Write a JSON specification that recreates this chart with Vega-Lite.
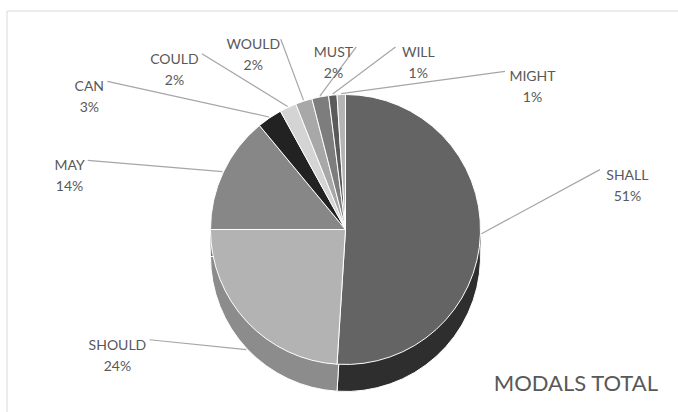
{
  "$schema": "https://vega.github.io/schema/vega-lite/v6.json",
  "width": 671,
  "height": 401,
  "autosize": "none",
  "padding": {"left": 7, "top": 11, "right": 0, "bottom": 0},
  "background": "white",
  "config": {"view": {"stroke": null}, "font": "Lato"},
  "title": {"text": "MODALS TOTAL", "orient": "bottom", "anchor": "end", "frame": "group", "offset": -39, "dx": -20, "fontSize": 22, "font": "Lato", "fontWeight": "normal", "color": "#595959"},
  "data": {"values": [
    {"modal": "SHALL", "pct": 51},
    {"modal": "SHOULD", "pct": 24},
    {"modal": "MAY", "pct": 14},
    {"modal": "CAN", "pct": 3},
    {"modal": "COULD", "pct": 2},
    {"modal": "WOULD", "pct": 2},
    {"modal": "MUST", "pct": 2},
    {"modal": "WILL", "pct": 1},
    {"modal": "MIGHT", "pct": 1}
  ]},
  "transform": [
    {"calculate": "indexof(['SHALL','SHOULD','MAY','CAN','COULD','WOULD','MUST','WILL','MIGHT'], datum.modal)", "as": "idx"},
    {"calculate": "[1.382, 4.241, 4.937, 5.219, 5.494, 5.819, 6.215, 0.391, 0.888][datum.idx]", "as": "la"},
    {"calculate": "[287, 256, 283, 293, 241, 206, 177, 191, 241][datum.idx]", "as": "lr"}
  ],
  "layer": [
    {
      "data": {"values": [{}]},
      "mark": {"type": "rule", "color": "#d9d9d9", "strokeWidth": 1},
      "encoding": {"y": {"value": 0}}
    },
    {
      "data": {"values": [{}]},
      "mark": {"type": "rule", "color": "#d9d9d9", "strokeWidth": 1},
      "encoding": {"x": {"value": 0}}
    },
    {
      "mark": {"type": "arc", "outerRadius": 135, "xOffset": 3, "yOffset": 27, "strokeWidth": 0},
      "encoding": {
        "theta": {"field": "pct", "type": "quantitative", "stack": true},
        "order": {"field": "idx", "type": "quantitative"},
        "color": {"field": "modal", "type": "nominal", "legend": null,
          "scale": {"domain": ["SHALL","SHOULD","MAY","CAN","COULD","WOULD","MUST","WILL","MIGHT"], "range": ["#2e2e2e","#8c8c8c","#666666","#1a1a1a","#a8a8a8","#888888","#5e5e5e","#444444","#909090"]}}
      }
    },
    {
      "mark": {"type": "arc", "outerRadius": 135, "xOffset": 3, "yOffset": 36, "strokeWidth": 0},
      "encoding": {
        "theta": {"field": "pct", "type": "quantitative", "stack": true},
        "order": {"field": "idx", "type": "quantitative"},
        "color": {"field": "modal", "type": "nominal", "legend": null,
          "scale": {"domain": ["SHALL","SHOULD","MAY","CAN","COULD","WOULD","MUST","WILL","MIGHT"], "range": ["#2e2e2e","#8c8c8c","#666666","#1a1a1a","#a8a8a8","#888888","#5e5e5e","#444444","#909090"]}}
      }
    },
    {
      "mark": {"type": "arc", "outerRadius": 135, "xOffset": 3, "yOffset": 45, "stroke": "#ffffff", "strokeWidth": 1},
      "encoding": {
        "theta": {"field": "pct", "type": "quantitative", "stack": true},
        "order": {"field": "idx", "type": "quantitative"},
        "color": {"field": "modal", "type": "nominal", "legend": null,
          "scale": {"domain": ["SHALL","SHOULD","MAY","CAN","COULD","WOULD","MUST","WILL","MIGHT"], "range": ["#2e2e2e","#8c8c8c","#666666","#1a1a1a","#a8a8a8","#888888","#5e5e5e","#444444","#909090"]}}
      }
    },
    {
      "mark": {"type": "arc", "outerRadius": 135, "xOffset": 3, "yOffset": 18, "stroke": "#ffffff", "strokeWidth": 1},
      "encoding": {
        "theta": {"field": "pct", "type": "quantitative", "stack": true},
        "order": {"field": "idx", "type": "quantitative"},
        "color": {"field": "modal", "type": "nominal", "legend": null,
          "scale": {"domain": ["SHALL","SHOULD","MAY","CAN","COULD","WOULD","MUST","WILL","MIGHT"], "range": ["#646464","#b3b3b3","#878787","#222222","#d4d4d4","#a8a8a8","#7d7d7d","#5a5a5a","#b4b4b4"]}}
      }
    },
    {
      "transform": [
        {"window": [{"op": "sum", "field": "pct", "as": "cum"}], "sort": [{"field": "idx", "order": "ascending"}], "frame": [null, 0]},
        {"calculate": "(datum.cum - datum.pct / 2) / 100 * 2 * PI", "as": "mid"},
        {"calculate": "width / 2 + 3 + 136 * sin(datum.mid)", "as": "x1"},
        {"calculate": "height / 2 + 18 - 136 * cos(datum.mid) + (cos(datum.mid) < -0.5 ? 27 : 0)", "as": "y1"},
        {"calculate": "width / 2 + 3 + datum.lr * sin(datum.la)", "as": "lx"},
        {"calculate": "height / 2 + 18 - datum.lr * cos(datum.la)", "as": "ly"},
        {"calculate": "datum.lx + (datum.lx < width / 2 ? 1 : -1) * (length(datum.modal) * 4.7 + 4)", "as": "x2"},
        {"calculate": "datum.ly - 6", "as": "y2"}
      ],
      "mark": {"type": "rule", "color": "#a6a6a6", "strokeWidth": 1.2},
      "encoding": {
        "x": {"field": "x1", "type": "quantitative", "scale": null},
        "y": {"field": "y1", "type": "quantitative", "scale": null},
        "x2": {"field": "x2"},
        "y2": {"field": "y2"}
      }
    },
    {
      "transform": [{"calculate": "datum.modal + '\\n' + datum.pct + '%'", "as": "label"}],
      "mark": {"type": "text", "font": "Lato", "fontSize": 14, "color": "#595959", "lineBreak": "\n", "lineHeight": 21, "align": "center", "baseline": "middle", "dx": 3, "dy": 18},
      "encoding": {
        "theta": {"field": "la", "type": "quantitative", "stack": false, "scale": null},
        "radius": {"field": "lr", "type": "quantitative", "scale": null},
        "text": {"field": "label", "type": "nominal"}
      }
    }
  ],
  "resolve": {"scale": {"theta": "independent", "radius": "independent", "color": "independent"}}
}
